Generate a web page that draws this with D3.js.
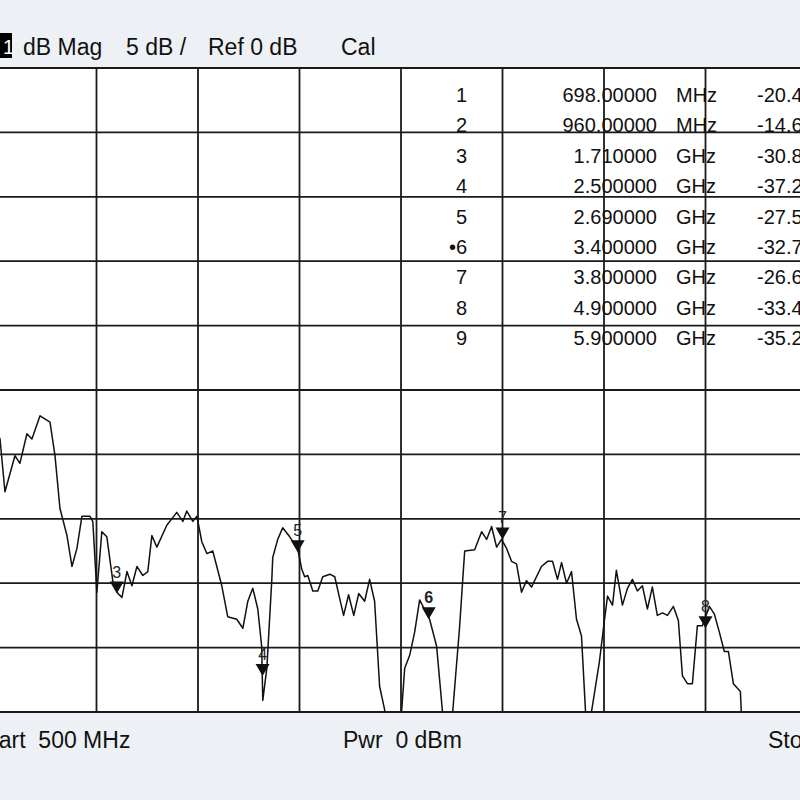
<!DOCTYPE html>
<html><head><meta charset="utf-8">
<script src="https://cdn.jsdelivr.net/npm/d3@7"></script>
<style>body{margin:0;background:#edf1f5}svg{display:block}</style>
</head><body><svg id="c" width="800" height="800"></svg>
<script>
const traceFreqGHz=[1.05,1.077,1.104,1.158,1.185,1.223,1.250,1.294,1.348,1.375,1.402,1.440,1.467,1.494,1.521,1.564,1.580,1.602,1.629,1.656,1.689,1.716,1.738,1.765,1.792,1.819,1.851,1.878,1.900,1.927,1.981,2.035,2.068,2.089,2.122,2.144,2.171,2.198,2.230,2.279,2.311,2.360,2.393,2.420,2.447,2.474,2.495,2.501,2.523,2.550,2.555,2.582,2.609,2.647,2.690,2.712,2.728,2.745,2.772,2.799,2.826,2.864,2.891,2.918,2.939,2.966,2.994,3.021,3.053,3.080,3.107,3.134,3.161,3.205,3.253,3.270,3.297,3.324,3.351,3.405,3.443,3.475,3.503,3.530,3.567,3.595,3.649,3.687,3.714,3.741,3.768,3.795,3.822,3.849,3.876,3.903,3.930,3.957,4.011,4.044,4.071,4.098,4.120,4.147,4.174,4.201,4.228,4.250,4.266,4.282,4.325,4.347,4.369,4.396,4.417,4.450,4.477,4.504,4.531,4.558,4.585,4.612,4.639,4.667,4.694,4.726,4.753,4.775,4.802,4.829,4.856,4.883,4.921,4.948,4.975,5.002,5.024,5.051,5.089,5.094,5.137,5.2];
const traceDb=[-18.0,-18.8,-22.9,-20.1,-20.7,-18.4,-18.8,-17.0,-17.5,-20.1,-24.2,-26.3,-28.7,-27.3,-24.8,-24.8,-25.2,-30.7,-26.0,-26.4,-29.9,-30.8,-31.1,-29.1,-30.2,-28.7,-29.4,-29.1,-26.3,-27.2,-25.5,-24.5,-25.2,-24.4,-25.2,-24.8,-26.8,-27.7,-27.5,-30.2,-32.6,-32.8,-33.5,-31.4,-30.4,-32.0,-34.9,-39.1,-36.6,-29.7,-28.0,-26.6,-25.7,-26.4,-27.3,-28.9,-29.5,-29.4,-30.6,-30.6,-29.5,-29.3,-29.5,-31.2,-32.5,-30.9,-32.5,-30.8,-31.4,-29.7,-31.4,-38.0,-39.8,-45.2,-40.0,-36.6,-35.6,-33.8,-31.3,-32.8,-34.9,-40.0,-45.2,-40.0,-33.5,-27.5,-27.4,-26.0,-26.6,-25.6,-27.2,-26.6,-27.3,-28.3,-28.5,-30.7,-29.8,-30.3,-28.7,-28.3,-28.3,-29.7,-28.4,-30.0,-29.1,-32.8,-34.1,-40.0,-45.2,-40.0,-36.1,-33.5,-31.0,-31.7,-29.0,-31.7,-30.4,-29.7,-30.6,-30.2,-32.0,-30.3,-32.5,-32.3,-32.5,-31.8,-32.9,-37.2,-37.8,-37.8,-33.3,-33.3,-31.8,-32.4,-33.8,-35.3,-35.3,-37.8,-38.4,-40.0,-46.7,-48.0];
const markerIds=["1","2","3","4","5","6","7","8","9"];
const markerFreqGHz=[0.698,0.96,1.71,2.5,2.69,3.4,3.8,4.9,5.9];
const markerDb=[-20.4,-14.6,-30.8,-37.2,-27.6,-32.8,-26.6,-33.5,-35.2];
const markerFreqText=["698.00000","960.00000","1.710000","2.500000","2.690000","3.400000","3.800000","4.900000","5.900000"];
const markerUnit=["MHz","MHz","GHz","GHz","GHz","GHz","GHz","GHz","GHz"];
const markerValText=["-20.41 dB","-14.63 dB","-30.82 dB","-37.24 dB","-27.58 dB","-32.79 dB","-26.61 dB","-33.47 dB","-35.20 dB"];
const activeMarker="6";

const svg=d3.select("#c"), font="'Liberation Sans',Arial,sans-serif";
const x=d3.scaleLinear().domain([0.5,6.0]).range([-106.5,908.5]);
const y=d3.scaleLinear().domain([-40,10]).range([712,68]);
svg.append("rect").attr("x",x(0.5)).attr("y",y(10)).attr("width",x(6)-x(0.5)).attr("height",y(-40)-y(10)).attr("fill","#fff");
svg.append("clipPath").attr("id","pc").append("rect").attr("x",x(0.5)).attr("y",y(10)).attr("width",x(6)-x(0.5)).attr("height",y(-40)-y(10));
const g=svg.append("g");
g.selectAll(".v").data(d3.range(0,11)).join("line").attr("x1",i=>x(0.5+i*0.55)).attr("x2",i=>x(0.5+i*0.55)).attr("y1",y(10)).attr("y2",y(-40)).attr("stroke","#1a1a1a").attr("stroke-width",1.8);
g.selectAll(".h").data(d3.range(0,11)).join("line").attr("y1",i=>y(10-i*5)).attr("y2",i=>y(10-i*5)).attr("x1",x(0.5)).attr("x2",x(6)).attr("stroke","#1a1a1a").attr("stroke-width",1.8);
const pts=traceFreqGHz.map((f,i)=>[f,traceDb[i]]);
svg.append("path").attr("clip-path","url(#pc)").attr("d",d3.line().x(d=>x(d[0])).y(d=>y(d[1]))(pts)).attr("fill","none").attr("stroke","#111").attr("stroke-width",1.5).attr("stroke-linejoin","round");
const mg=svg.append("g").attr("clip-path","url(#pc)");
markerIds.forEach((id,i)=>{
  const mx=x(markerFreqGHz[i]), my=y(markerDb[i]);
  mg.append("path").attr("d",`M${mx},${my}L${mx-7},${my-12}L${mx+7},${my-12}Z`).attr("fill","#111");
  mg.append("text").attr("x",mx).attr("y",my-16).attr("text-anchor","middle").attr("font-family",font).attr("font-size",16).attr("font-weight",id===activeMarker?"bold":"normal").attr("fill","#222").text(id);
});
const rowY=d3.scaleLinear().domain([0,8]).range([102,345]);
markerIds.forEach((id,i)=>{
  const t=(xx,anchor,s)=>svg.append("text").attr("x",xx).attr("y",rowY(i)).attr("text-anchor",anchor).attr("font-family",font).attr("font-size",20).attr("fill","#111").text(s);
  t(467,"end",(id===activeMarker?"•":"")+id);
  t(657,"end",markerFreqText[i]);
  t(676,"start",markerUnit[i]);
  t(757,"start",markerValText[i]);
});
svg.append("rect").attr("x",0).attr("y",33).attr("width",12).attr("height",25).attr("fill","#000");
svg.append("text").attr("x",3).attr("y",54).attr("font-family",font).attr("font-size",20).attr("fill","#fff").text("1");
[["dB Mag",23],["5 dB /",126],["Ref 0 dB",208],["Cal",341]].forEach(([s,xx])=>svg.append("text").attr("x",xx).attr("y",55).attr("font-family",font).attr("font-size",23).attr("fill","#111").text(s));
[["Start  500 MHz",-23],["Pwr  0 dBm",343],["Stop  6 GHz",768]].forEach(([s,xx])=>svg.append("text").attr("x",xx).attr("y",748).attr("font-family",font).attr("font-size",23).attr("xml:space","preserve").attr("fill","#111").text(s));
</script></body></html>
